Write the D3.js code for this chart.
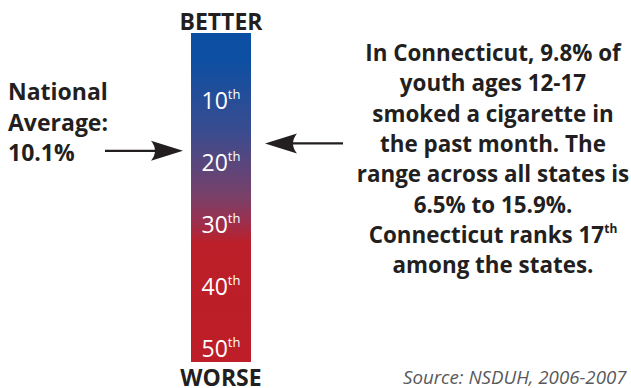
<!DOCTYPE html>
<html><head><meta charset="utf-8">
<script src="https://cdn.jsdelivr.net/npm/d3@7"></script>
<style>
html,body{margin:0;padding:0;background:#fff;}
svg{display:block;}
</style></head>
<body>
<script>
// ---- data ----
const rankTicks = [10, 20, 30, 40, 50];
const tickSuffix = ["th", "th", "th", "th", "th"];
const stateName = "Connecticut";
const stateValue = 9.8;        // % youth 12-17 smoked in past month
const stateRank = 17;
const nationalValue = 10.1;
const nationalRank = 18.2;      // estimated position of national average on the rank bar
const rangeMin = 6.5, rangeMax = 15.9;
const endLabels = ["BETTER", "WORSE"];
const leftText = ["National", "Average:", nationalValue + "%"];
const rightText = [
  ["In " + stateName + ", " + stateValue + "% of"],
  ["youth ages 12-17"],
  ["smoked a cigarette in"],
  ["the past month. The"],
  ["range across all states is"],
  [rangeMin + "% to " + rangeMax + "%."],
  [stateName + " ranks " + stateRank, "th"],
  ["among the states."]
];
const sourceText = "Source: NSDUH, 2006-2007";

// ---- layout ----
const W = 631, H = 388;
const svg = d3.select("body").append("svg").attr("width", W).attr("height", H);
const barX0 = 191, barX1 = 251, barTop = 33, barBot = 362;
const cx = (barX0 + barX1) / 2;
const y = d3.scaleLinear().domain([10, 50]).range([100, 348]);

const defs = svg.append("defs");
const grad = defs.append("linearGradient").attr("id", "g").attr("x1", 0).attr("x2", 0).attr("y1", 0).attr("y2", 1);
[[0, "#0b4fa3"], [0.08, "#0d4fa2"], [0.3, "#3a4c8f"], [0.5, "#7a4068"], [0.57, "#9a3050"], [0.64, "#bc1f29"], [1, "#bd1e27"]]
  .forEach(([o, c]) => grad.append("stop").attr("offset", o).attr("stop-color", c));

svg.append("rect").attr("x", barX0).attr("y", barTop).attr("width", barX1 - barX0).attr("height", barBot - barTop).attr("fill", "url(#g)");

const font = "'Open Sans', sans-serif";
const dark = "#231f20";

// rank labels
const lab = svg.selectAll("text.rank").data(rankTicks).join("text")
  .attr("class", "rank")
  .attr("x", cx).attr("y", d => y(d) + 8.5)
  .attr("text-anchor", "middle")
  .attr("font-family", font).attr("font-size", 23).attr("fill", "#fff");
lab.append("tspan").text(d => d);
lab.append("tspan").text((d, i) => tickSuffix[i]).attr("font-size", 13).attr("dy", -9.5);

// end labels
svg.append("text").attr("x", cx).attr("y", 30).attr("text-anchor", "middle")
  .attr("font-family", font).attr("font-weight", 700).attr("font-size", 23).attr("fill", dark).text(endLabels[0]);
svg.append("text").attr("x", cx).attr("y", 386).attr("text-anchor", "middle")
  .attr("font-family", font).attr("font-weight", 700).attr("font-size", 23).attr("fill", dark).text(endLabels[1]);

// left text
svg.append("g").selectAll("text").data(leftText).join("text")
  .attr("x", 8).attr("y", (d, i) => 100 + i * 30.5)
  .attr("font-family", font).attr("font-weight", 700).attr("font-size", 23).attr("fill", dark).text(d => d);

// arrows
function arrow(x0, x1, yy) {
  const dir = Math.sign(x1 - x0);
  const hl = 32, hw = 10, notch = 8;
  const g = svg.append("g");
  g.append("line").attr("x1", x0).attr("x2", x1 - dir * 20).attr("y1", yy).attr("y2", yy)
    .attr("stroke", dark).attr("stroke-width", 2.2);
  const p = d3.path();
  p.moveTo(x1, yy);
  p.lineTo(x1 - dir * hl, yy - hw);
  p.quadraticCurveTo(x1 - dir * (hl - notch), yy, x1 - dir * hl, yy + hw);
  p.closePath();
  g.append("path").attr("d", p.toString()).attr("fill", dark);
}
arrow(105, 183, y(nationalRank));
arrow(343, 265, y(stateRank));

// right text
const rt = svg.append("g").selectAll("text").data(rightText).join("text")
  .attr("x", 493).attr("y", (d, i) => 61 + i * 30.3)
  .attr("text-anchor", "middle")
  .attr("font-family", font).attr("font-weight", 700).attr("font-size", 22.4).attr("fill", dark);
rt.append("tspan").text(d => d[0]);
rt.filter(d => d.length > 1).append("tspan").text(d => d[1]).attr("font-size", 12).attr("dy", -10);

// source
svg.append("text").attr("x", 403).attr("y", 384)
  .attr("font-family", font).attr("font-style", "italic").attr("font-size", 18.7).attr("fill", "#58595b").text(sourceText);
</script>
</body></html>
